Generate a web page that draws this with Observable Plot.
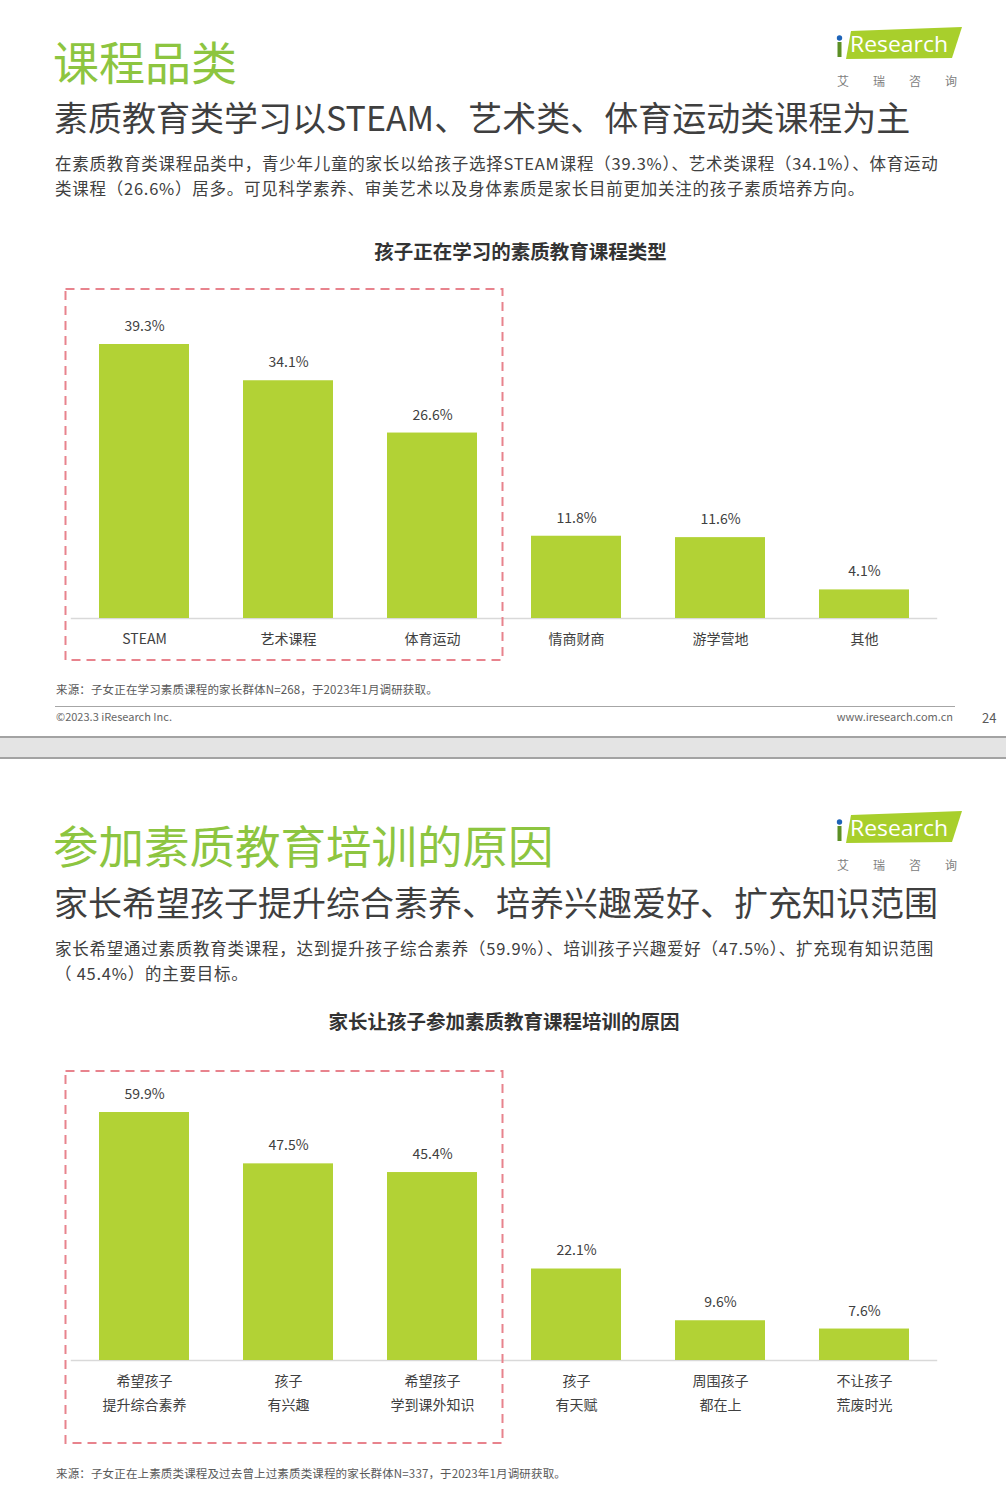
<!DOCTYPE html>
<html><head><meta charset="utf-8">
<script src="https://cdn.jsdelivr.net/npm/d3@7"></script>
<script src="https://cdn.jsdelivr.net/npm/@observablehq/plot@0.6"></script>
<style>
body{margin:0;background:#fff;}
#page{position:relative;width:1006px;height:1486px;overflow:hidden;font-family:"Noto Sans CJK SC","Noto Sans",sans-serif;color:#404040;background:#fff;}
.abs{position:absolute;white-space:nowrap;line-height:1;}
.title{font-size:46px;color:#8DC540;left:53px;}
.sub{font-size:34px;color:#3f3f3f;left:54px;}
.para{font-size:16.5px;line-height:25px;left:55px;color:#404040;letter-spacing:0.75px;}
.ctitle{font-size:19.5px;font-weight:bold;color:#333;transform:translateX(-50%);}
.src{font-size:11.5px;color:#595959;left:56px;letter-spacing:0.15px;}
.foot{font-size:11px;color:#666;}
.logo-cn{font-size:12px;color:#808080;letter-spacing:24px;left:837px;}
svg.chart{position:absolute;left:0;}
</style>
</head><body><div id="page"></div>
<script>
// ---------- data ----------
const cats1 = ["STEAM", "艺术课程", "体育运动", "情商财商", "游学营地", "其他"];
const vals1 = [39.3, 34.1, 26.6, 11.8, 11.6, 4.1];
const cats2 = ["希望孩子\n提升综合素养", "孩子\n有兴趣", "希望孩子\n学到课外知识", "孩子\n有天赋", "周围孩子\n都在上", "不让孩子\n荒废时光"];
const vals2 = [59.9, 47.5, 45.4, 22.1, 9.6, 7.6];

const title1 = "课程品类";
const subtitle1 = "素质教育类学习以STEAM、艺术类、体育运动类课程为主";
const para1 = ["在素质教育类课程品类中，青少年儿童的家长以给孩子选择STEAM课程（39.3%）、艺术类课程（34.1%）、体育运动", "类课程（26.6%）居多。可见科学素养、审美艺术以及身体素质是家长目前更加关注的孩子素质培养方向。"];
const chartTitle1 = "孩子正在学习的素质教育课程类型";
const source1 = "来源：子女正在学习素质课程的家长群体N=268，于2023年1月调研获取。";

const title2 = "参加素质教育培训的原因";
const subtitle2 = "家长希望孩子提升综合素养、培养兴趣爱好、扩充知识范围";
const para2 = ["家长希望通过素质教育类课程，达到提升孩子综合素养（59.9%）、培训孩子兴趣爱好（47.5%）、扩充现有知识范围", "（ 45.4%）的主要目标。"];
const chartTitle2 = "家长让孩子参加素质教育课程培训的原因";
const source2 = "来源：子女正在上素质类课程及过去曾上过素质类课程的家长群体N=337，于2023年1月调研获取。";

const page = document.getElementById("page");
function add(html){ page.insertAdjacentHTML("beforeend", html); }

const BAR = "#B2D235";
const FONT = '"Noto Sans CJK SC","Noto Sans",sans-serif';

function chart(cats, vals, {top, height, marginTop, marginBottom, yMax}) {
  const data = cats.map((c, i) => ({cat: c, v: vals[i]}));
  const svg = Plot.plot({
    width: 1006, height, marginLeft: 70.8, marginRight: 68.8, marginTop, marginBottom,
    style: {fontFamily: FONT, fontSize: "14px", color: "#404040", background: "transparent", overflow: "visible"},
    x: {domain: cats, paddingInner: 0.377, paddingOuter: 0.1885, label: null},
    y: {domain: [0, yMax], axis: null},
    marks: [
      Plot.ruleY([0], {stroke: "#d9d9d9", strokeWidth: 1.5}),
      Plot.barY(data, {x: "cat", y: "v", fill: BAR}),
      Plot.text(data, {x: "cat", y: "v", text: d => d.v.toFixed(1) + "%", dy: -18, fontSize: 14, fill: "#404040"}),
      Plot.axisX({tickSize: 0, tickPadding: 8, fontSize: 14, lineHeight: 1.72, fill: "#404040"})
    ]
  });
  svg.classList.add("chart");
  svg.style.top = top + "px";
  page.appendChild(svg);
}

function logo(off) {
  add(`<svg class="abs" style="left:830px;top:${20+off}px" width="140" height="50">
    <polygon points="21,11 132,7 122,38 16,39" fill="#A8CF2C"/>
    <circle cx="9.5" cy="18" r="2.7" fill="#1D63B8"/>
    <rect x="7.5" y="22" width="4" height="15" fill="#5C8F25"/>
    <text x="20" y="32" font-family="'Open Sans',sans-serif" font-size="22" fill="#fff" textLength="98" lengthAdjust="spacingAndGlyphs">Research</text>
  </svg>`);
  add(`<div class="abs logo-cn" style="top:${75+off}px">艾瑞咨询</div>`);
}

// ---------- slide 1 ----------
chart(cats1, vals1, {top: 260, height: 420, marginTop: 9.4, marginBottom: 62, yMax: 50});
add(`<div class="abs title" style="top:37px">${title1}</div>`);
logo(0);
add(`<div class="abs sub" style="top:99.5px">${subtitle1}</div>`);
add(`<div class="abs para" style="top:150.5px">${para1.join("<br>")}</div>`);
add(`<div class="abs ctitle" style="top:241px;left:520.5px">${chartTitle1}</div>`);
add(`<div class="abs src" style="top:684px">${source1}</div>`);
add(`<div class="abs" style="left:55px;top:705.5px;width:900px;height:1px;background:#a6a6a6"></div>`);
add(`<div class="abs foot" style="left:56px;top:710.5px">©2023.3 iResearch Inc.</div>`);
add(`<div class="abs foot" style="right:53px;top:710.5px">www.iresearch.com.cn</div>`);
add(`<div class="abs" style="left:982px;top:710.5px;font-size:13px;color:#595959">24</div>`);

// separator between slides
add(`<div class="abs" style="left:0;top:736px;width:1006px;height:19px;background:#e4e4e4;border-top:2px solid #a3a3a3;border-bottom:2px solid #a3a3a3"></div>`);

// ---------- slide 2 ----------
chart(cats2, vals2, {top: 1040, height: 420, marginTop: 9.5, marginBottom: 100, yMax: 75});
add(`<div class="abs title" style="top:822px;font-size:45.5px">${title2}</div>`);
logo(784);
add(`<div class="abs sub" style="top:885px">${subtitle2}</div>`);
add(`<div class="abs para" style="top:935.5px">${para2.join("<br>")}</div>`);
add(`<div class="abs ctitle" style="top:1011px;left:504px">${chartTitle2}</div>`);
add(`<div class="abs src" style="top:1468px">${source2}</div>`);

// dashed highlight boxes
add(`<svg class="abs" style="left:0;top:0;pointer-events:none" width="1006" height="1486">
  <rect x="65.5" y="289" width="437" height="371" fill="none" stroke="#E8838D" stroke-width="2" stroke-dasharray="9 6"/>
  <rect x="65.5" y="1071" width="437" height="372" fill="none" stroke="#E8838D" stroke-width="2" stroke-dasharray="9 6"/>
</svg>`);
</script>
</body></html>
